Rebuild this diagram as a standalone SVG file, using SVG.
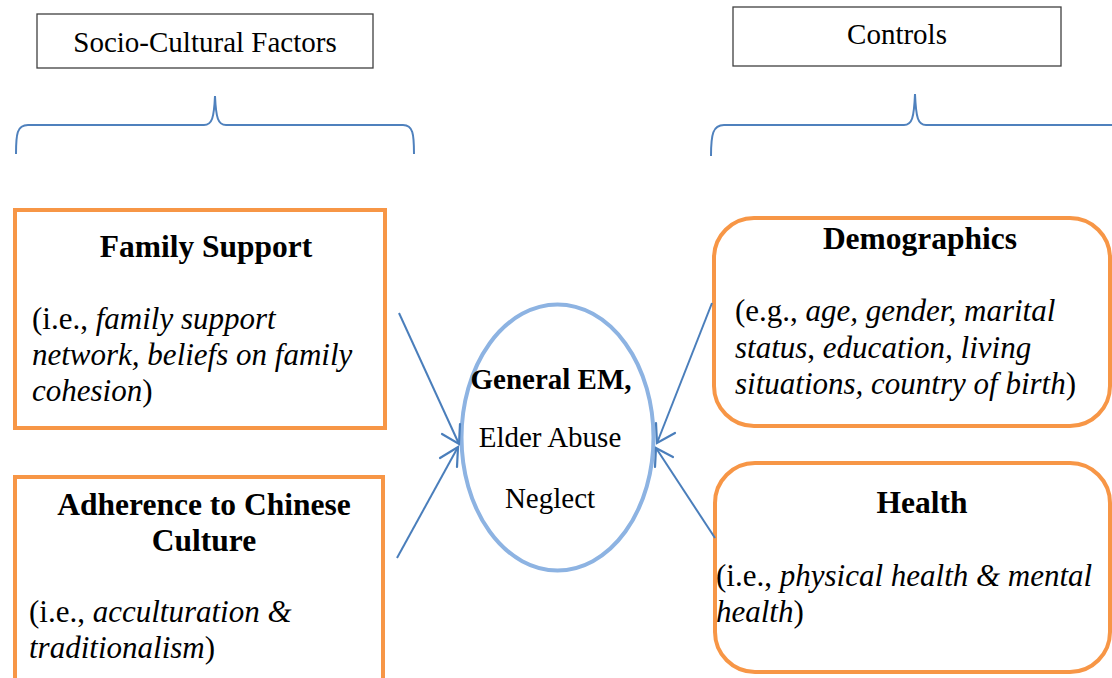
<svg xmlns="http://www.w3.org/2000/svg" width="1112" height="678" viewBox="0 0 1112 678">
<defs>
<style>
text{font-family:'Liberation Serif',serif;fill:#000}
.hdr{font-size:29px}
.b{font-weight:bold;font-size:31.5px}
.body{font-size:31px}
.i{font-style:italic}
.box{fill:#fff;stroke:#F79646;stroke-width:4}
.lbl{fill:#fff;stroke:#404040;stroke-width:1.3}
.brace{fill:none;stroke:#4F81BD;stroke-width:2}
.arr{fill:none;stroke:#4A7EBB;stroke-width:2}
.head{fill:none;stroke:#4A7EBB;stroke-width:2.2;stroke-linecap:round}
</style>
</defs>
<rect width="1112" height="678" fill="#fff"/>

<g id="label-socio">
<rect class="lbl" x="37" y="14" width="336" height="54"/>
<text class="hdr" x="205" y="52" text-anchor="middle">Socio-Cultural Factors</text>
</g>
<g id="label-controls">
<rect class="lbl" x="733" y="7" width="328" height="59"/>
<text class="hdr" x="897" y="44" text-anchor="middle">Controls</text>
</g>

<g id="braces">
<path class="brace" d="M16,154 C16,134 17,125 28,125 L204,125 C212,125 214,118 215,96 C216,118 218,125 226,125 L403,125 C413,125 414,134 414,154"/>
<path class="brace" d="M711,156 C711,134 713,125 724,125 L904,125 C912,125 914,118 915,94 C916,118 918,125 926,125 L1112,125"/>
</g>

<g id="family-support">
<rect class="box" x="15" y="210" width="370" height="218"/>
<text class="b" x="206" y="257" text-anchor="middle">Family Support</text>
<text class="body" x="32" y="329">(i.e., <tspan class="i">family support</tspan></text>
<text class="body i" x="32" y="365">network, beliefs on family</text>
<text class="body" x="32" y="401"><tspan class="i">cohesion</tspan>)</text>
</g>

<g id="adherence">
<rect class="box" x="15" y="477" width="368" height="210"/>
<text class="b" x="204" y="515" text-anchor="middle">Adherence to Chinese</text>
<text class="b" x="204" y="551" text-anchor="middle">Culture</text>
<text class="body" x="29" y="622">(i.e., <tspan class="i">acculturation &amp;</tspan></text>
<text class="body" x="29" y="658"><tspan class="i">traditionalism</tspan>)</text>
</g>

<g id="outcome">
<ellipse cx="557.5" cy="437.5" rx="96" ry="133" fill="#fff" stroke="#8DB3E2" stroke-width="4"/>
<text x="551" y="389" text-anchor="middle" font-size="29" font-weight="bold">General EM,</text>
<text x="550" y="447" text-anchor="middle" font-size="29">Elder Abuse</text>
<text x="550" y="508" text-anchor="middle" font-size="29">Neglect</text>
</g>

<g id="demographics">
<rect class="box" x="714" y="218" width="396" height="208" rx="40" ry="40"/>
<text class="b" x="920" y="249" text-anchor="middle">Demographics</text>
<text class="body" x="735" y="321">(e.g., <tspan class="i">age, gender, marital</tspan></text>
<text class="body" x="735" y="358"><tspan class="i">status</tspan>, <tspan class="i">education, living</tspan></text>
<text class="body" x="735" y="394"><tspan class="i">situations, country of birth</tspan>)</text>
</g>

<g id="health">
<rect class="box" x="715" y="463" width="395" height="209" rx="40" ry="40"/>
<text class="b" x="922" y="513" text-anchor="middle">Health</text>
<text class="body" x="716" y="586">(i.e., <tspan class="i">physical health &amp; mental</tspan></text>
<text class="body" x="716" y="622"><tspan class="i">health</tspan>)</text>
</g>

<g id="connectors">
<line class="arr" x1="399" y1="313" x2="459" y2="444"/>
<path class="head" d="M442,434 L459,444 L460,424"/>
<line class="arr" x1="397" y1="558" x2="458" y2="447"/>
<path class="head" d="M440,458 L458,447 L457,467"/>
<line class="arr" x1="712" y1="303" x2="657" y2="443"/>
<path class="head" d="M656,423 L657,443 L675,433"/>
<line class="arr" x1="715" y1="538" x2="656" y2="448"/>
<path class="head" d="M673,457 L656,448 L655,467"/>
</g>
</svg>
